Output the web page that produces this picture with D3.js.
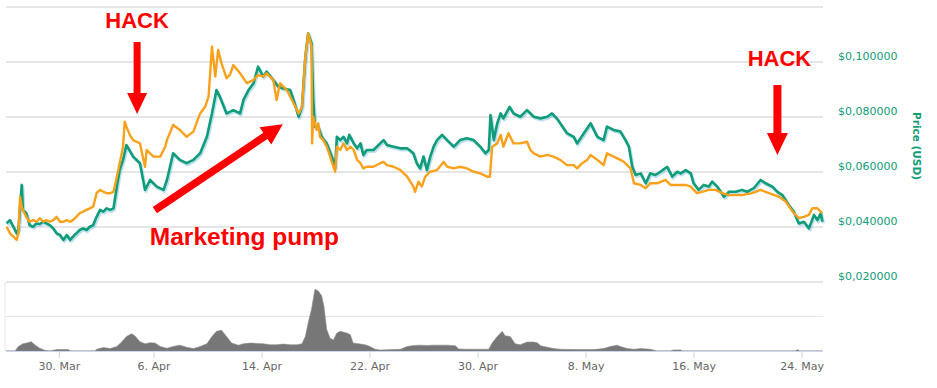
<!DOCTYPE html>
<html><head><meta charset="utf-8">
<script src="https://cdn.jsdelivr.net/npm/d3@7/dist/d3.min.js"></script>
<style>body{margin:0;background:#fff}svg{display:block}</style>
</head><body>
<svg id="chart" width="937" height="388"></svg>
<script>
// ---- DATA (2018) ----
const priceUSD = [
["03-26 03",0.0413],["03-26 09",0.0425],["03-26 15",0.0401],["03-26 21",0.0377],["03-27 00",0.0389],["03-27 03",0.0474],["03-27 06",0.0553],["03-27 08",0.0462],["03-27 14",0.0450],["03-27 20",0.0407],
["03-28 02",0.0401],["03-28 08",0.0413],["03-28 14",0.0411],["03-28 20",0.0419],["03-29 02",0.0413],["03-29 08",0.0407],["03-29 14",0.0395],["03-29 20",0.0377],["03-30 02",0.0371],["03-30 08",0.0353],
["03-30 14",0.0371],["03-30 20",0.0353],["03-31 01",0.0365],["03-31 07",0.0377],["03-31 13",0.0389],["03-31 19",0.0395],["04-01 01",0.0389],["04-01 07",0.0401],["04-01 13",0.0407],["04-01 19",0.0437],
["04-02 01",0.0462],["04-02 07",0.0456],["04-02 13",0.0468],["04-02 19",0.0462],["04-03 01",0.0468],["04-03 07",0.0547],["04-03 12",0.0607],["04-03 18",0.0644],["04-04 00",0.0698],["04-04 12",0.0656],
["04-05 00",0.0632],["04-05 09",0.0535],["04-05 18",0.0571],["04-06 06",0.0547],["04-06 18",0.0535],["04-07 00",0.0571],["04-07 11",0.0668],["04-07 23",0.0644],["04-08 11",0.0632],["04-08 23",0.0644],
["04-09 11",0.0668],["04-09 23",0.0728],["04-10 08",0.0813],["04-10 16",0.0898],["04-10 22",0.0874],["04-11 10",0.0813],["04-11 22",0.0825],["04-12 10",0.0813],["04-12 16",0.0862],["04-13 01",0.0898],
["04-13 10",0.0923],["04-13 18",0.0983],["04-14 03",0.0947],["04-14 09",0.0965],["04-14 21",0.0935],["04-15 06",0.0910],["04-15 15",0.0904],["04-16 03",0.0898],["04-16 09",0.0862],["04-16 18",0.0801],
["04-17 00",0.0837],["04-17 06",0.1019],["04-17 11",0.1104],["04-17 17",0.1068],["04-17 20",0.0862],["04-17 23",0.0765],["04-18 05",0.0765],["04-18 11",0.0728],["04-18 20",0.0704],["04-19 05",0.0656],
["04-19 11",0.0619],["04-19 14",0.0728],["04-19 20",0.0716],["04-20 02",0.0728],["04-20 08",0.0704],["04-20 12",0.0735],["04-20 20",0.0704],["04-21 02",0.0686],["04-21 08",0.0704],["04-21 13",0.0662],
["04-21 19",0.0680],["04-22 07",0.0680],["04-22 19",0.0704],["04-23 01",0.0716],["04-23 07",0.0698],["04-23 19",0.0692],["04-24 07",0.0686],["04-24 19",0.0686],["04-25 06",0.0668],["04-25 12",0.0632],
["04-25 18",0.0613],["04-26 00",0.0656],["04-26 06",0.0607],["04-26 12",0.0656],["04-26 18",0.0692],["04-27 00",0.0716],["04-27 09",0.0735],["04-27 18",0.0716],["04-28 06",0.0692],["04-28 17",0.0716],
["04-29 05",0.0723],["04-29 17",0.0716],["04-30 05",0.0692],["04-30 14",0.0668],["04-30 20",0.0680],["04-30 23",0.0807],["05-01 05",0.0716],["05-01 11",0.0777],["05-01 17",0.0813],["05-01 22",0.0795],
["05-02 09",0.0837],["05-02 16",0.0813],["05-03 04",0.0801],["05-03 16",0.0825],["05-04 04",0.0801],["05-04 16",0.0795],["05-05 04",0.0801],["05-05 12",0.0813],["05-05 21",0.0795],["05-06 09",0.0759],
["05-06 15",0.0741],["05-07 03",0.0728],["05-07 09",0.0704],["05-07 21",0.0741],["05-08 09",0.0777],["05-08 21",0.0728],["05-09 08",0.0716],["05-09 14",0.0765],["05-10 02",0.0753],["05-10 14",0.0747],
["05-10 23",0.0716],["05-11 05",0.0692],["05-11 11",0.0619],["05-11 17",0.0589],["05-12 02",0.0595],["05-12 11",0.0559],["05-12 19",0.0595],["05-13 04",0.0589],["05-13 13",0.0601],["05-14 01",0.0619],
["05-14 10",0.0583],["05-14 19",0.0601],["05-15 01",0.0595],["05-15 10",0.0607],["05-15 19",0.0595],["05-16 00",0.0559],["05-16 09",0.0535],["05-16 18",0.0553],["05-17 03",0.0547],["05-17 09",0.0565],
["05-17 18",0.0547],["05-18 06",0.0510],["05-18 15",0.0528],["05-19 03",0.0528],["05-19 14",0.0535],["05-19 23",0.0528],["05-20 11",0.0541],["05-20 23",0.0571],["05-21 08",0.0559],["05-21 20",0.0547],
["05-22 05",0.0528],["05-22 14",0.0516],["05-23 01",0.0480],["05-23 10",0.0456],["05-23 19",0.0413],["05-24 04",0.0419],["05-24 13",0.0395],["05-24 22",0.0444],["05-25 04",0.0425],["05-25 10",0.0450],["05-25 13",0.0419]
];
// second series (price in BTC), expressed on the USD axis position
const priceBTC = [
["03-26 03",0.0401],["03-26 09",0.0377],["03-26 15",0.0365],["03-26 21",0.0353],["03-27 00",0.0377],["03-27 03",0.0510],["03-27 06",0.0474],["03-27 08",0.0462],["03-27 14",0.0437],["03-27 20",0.0419],
["03-28 02",0.0425],["03-28 08",0.0419],["03-28 14",0.0432],["03-28 20",0.0419],["03-29 02",0.0425],["03-29 08",0.0419],["03-29 14",0.0425],["03-29 20",0.0437],["03-30 02",0.0419],["03-30 08",0.0419],
["03-30 14",0.0425],["03-30 20",0.0419],["03-31 01",0.0425],["03-31 07",0.0437],["03-31 13",0.0450],["03-31 19",0.0456],["04-01 01",0.0462],["04-01 07",0.0468],["04-01 13",0.0474],["04-01 19",0.0523],
["04-02 01",0.0535],["04-02 07",0.0528],["04-02 13",0.0523],["04-02 19",0.0523],["04-03 01",0.0528],["04-03 07",0.0583],["04-03 12",0.0632],["04-03 18",0.0692],["04-03 21",0.0783],["04-04 00",0.0765],
["04-04 06",0.0735],["04-04 12",0.0716],["04-04 18",0.0710],["04-05 00",0.0704],["04-05 09",0.0619],["04-05 12",0.0680],["04-06 00",0.0656],["04-06 12",0.0656],["04-06 21",0.0692],["04-07 00",0.0716],
["04-07 11",0.0771],["04-07 23",0.0753],["04-08 11",0.0728],["04-08 23",0.0747],["04-09 11",0.0813],["04-09 20",0.0837],["04-10 02",0.0874],["04-10 08",0.1056],["04-10 14",0.0947],["04-10 19",0.1044],
["04-11 01",0.0995],["04-11 10",0.0941],["04-11 16",0.0953],["04-11 22",0.0989],["04-12 10",0.0959],["04-12 22",0.0923],["04-13 10",0.0935],["04-13 18",0.0953],["04-14 03",0.0947],["04-14 09",0.0959],
["04-14 21",0.0935],["04-15 03",0.0862],["04-15 09",0.0923],["04-15 21",0.0898],["04-16 09",0.0850],["04-16 18",0.0813],["04-17 00",0.0837],["04-17 06",0.1019],["04-17 11",0.1104],["04-17 17",0.1056],
["04-17 18",0.0704],["04-17 20",0.0801],["04-18 02",0.0753],["04-18 05",0.0777],["04-18 08",0.0728],["04-18 14",0.0716],["04-18 20",0.0692],["04-19 02",0.0656],["04-19 08",0.0619],["04-19 11",0.0601],
["04-19 14",0.0692],["04-19 20",0.0680],["04-20 02",0.0704],["04-20 08",0.0680],["04-20 14",0.0692],["04-20 20",0.0680],["04-21 02",0.0644],["04-21 08",0.0632],["04-21 13",0.0613],["04-21 19",0.0619],
["04-22 07",0.0619],["04-22 19",0.0632],["04-23 01",0.0637],["04-23 07",0.0625],["04-23 19",0.0619],["04-24 07",0.0607],["04-24 19",0.0583],["04-25 06",0.0547],["04-25 09",0.0528],["04-25 15",0.0565],
["04-25 21",0.0547],["04-26 03",0.0583],["04-26 12",0.0601],["04-27 00",0.0607],["04-27 12",0.0637],["04-27 18",0.0619],["04-28 06",0.0613],["04-28 17",0.0619],["04-29 05",0.0613],["04-29 17",0.0601],
["04-30 05",0.0595],["04-30 17",0.0583],["04-30 22",0.0583],["05-01 02",0.0692],["05-01 11",0.0704],["05-01 17",0.0735],["05-01 22",0.0692],["05-02 07",0.0741],["05-02 16",0.0704],["05-03 04",0.0704],
["05-03 16",0.0710],["05-03 22",0.0680],["05-04 04",0.0668],["05-04 16",0.0656],["05-05 04",0.0662],["05-05 15",0.0656],["05-06 03",0.0644],["05-06 15",0.0625],["05-07 03",0.0625],["05-07 09",0.0613],
["05-07 18",0.0632],["05-08 03",0.0644],["05-08 09",0.0662],["05-08 21",0.0644],["05-09 08",0.0625],["05-09 14",0.0668],["05-10 02",0.0656],["05-10 14",0.0644],["05-10 20",0.0637],["05-11 08",0.0613],
["05-11 14",0.0559],["05-12 02",0.0553],["05-12 11",0.0541],["05-12 19",0.0559],["05-13 07",0.0559],["05-13 22",0.0571],["05-14 07",0.0553],["05-15 01",0.0553],["05-15 10",0.0553],["05-15 19",0.0547],
["05-16 06",0.0523],["05-16 15",0.0528],["05-17 03",0.0535],["05-17 15",0.0535],["05-18 03",0.0523],["05-18 15",0.0516],["05-19 14",0.0516],["05-20 08",0.0523],["05-20 23",0.0535],["05-21 14",0.0523],
["05-22 08",0.0510],["05-22 20",0.0492],["05-23 08",0.0456],["05-23 19",0.0432],["05-24 04",0.0437],["05-24 13",0.0444],["05-24 19",0.0468],["05-25 04",0.0468],["05-25 13",0.0450]
];
// 24h volume (relative units; the panel's middle gridline = 1)
const volume = [
["03-26 02",0],["03-26 18",0],["03-27 00",0.13],["03-27 08",0.21],["03-27 17",0.24],["03-27 23",0.27],["03-28 05",0.18],["03-28 14",0.08],["03-28 23",0.02],["03-29 08",0],
["03-29 20",0.04],["03-30 17",0.04],["03-30 20",0],["04-01 16",0],["04-01 19",0.05],["04-02 07",0.10],["04-02 19",0.07],["04-03 07",0.13],["04-03 16",0.27],["04-04 00",0.42],
["04-04 09",0.50],["04-04 15",0.44],["04-05 00",0.27],["04-05 09",0.21],["04-05 18",0.24],["04-06 03",0.23],["04-06 12",0.13],["04-07 00",0.08],["04-07 11",0.13],["04-07 23",0.17],
["04-08 11",0.11],["04-08 23",0.07],["04-09 11",0.13],["04-09 23",0.21],["04-10 08",0.42],["04-10 16",0.57],["04-11 01",0.60],["04-11 10",0.42],["04-11 19",0.23],["04-12 07",0.17],
["04-12 16",0.21],["04-13 04",0.23],["04-13 16",0.22],["04-14 03",0.21],["04-14 15",0.18],["04-15 03",0.18],["04-15 15",0.20],["04-16 03",0.18],["04-16 15",0.18],["04-17 00",0.21],
["04-17 06",0.42],["04-17 11",0.81],["04-17 17",1.21],["04-17 23",1.79],["04-18 05",1.74],["04-18 11",1.60],["04-18 15",1.30],["04-18 20",0.62],["04-19 02",0.37],["04-19 08",0.32],
["04-19 14",0.52],["04-19 20",0.57],["04-20 08",0.52],["04-20 14",0.47],["04-20 19",0.23],["04-21 05",0.21],["04-21 16",0.18],["04-22 01",0.13],["04-22 10",0.05],["04-22 19",0.03],
["04-23 19",0.04],["04-24 07",0.05],["04-24 19",0.13],["04-25 06",0.16],["04-25 18",0.17],["04-26 06",0.16],["04-26 18",0.17],["04-27 18",0.17],["04-28 09",0.15],["04-28 14",0.06],
["04-29 05",0.05],["04-30 05",0.05],["04-30 20",0.05],["05-01 02",0.23],["05-01 11",0.42],["05-01 20",0.57],["05-02 01",0.44],["05-02 10",0.42],["05-02 19",0.21],["05-03 04",0.18],
["05-03 16",0.26],["05-04 04",0.26],["05-04 11",0.23],["05-04 16",0.15],["05-05 04",0.11],["05-05 15",0.07],["05-06 03",0.05],["05-07 15",0.04],["05-08 14",0.04],["05-09 08",0.07],
["05-09 20",0.13],["05-10 08",0.17],["05-10 14",0.13],["05-11 02",0.07],["05-11 14",0.05],["05-12 02",0.07],["05-12 19",0.05],["05-13 07",0],["05-14 07",0],["05-14 12",0.03],
["05-15 01",0.03],["05-15 04",0],["05-23 13",0],["05-23 17",0.04],["05-23 20",0],["05-25 13",0]
];
const timeDomain = ["03-26 02","05-25 14"];
const gridValues = [0.02,0.04,0.06,0.08,0.10,0.12];
const priceTickValues = [0.02,0.04,0.06,0.08,0.10];
const volumeGrid = [0,1,2];
const dateTicks = ["03-30 00","04-06 00","04-14 00","04-22 00","04-30 00","05-08 00","05-16 00","05-24 00"];
const dateTickLabels = ["30. Mar","6. Apr","14. Apr","22. Apr","30. Apr","8. May","16. May","24. May"];
const axisTitle = "Price (USD)";
const annotations = [
  {text:"HACK", time:"04-04 19", value:0.0811},
  {text:"HACK", time:"05-22 05", value:0.0662},
  {text:"Marketing pump", time:"04-15 14", value:0.0774}
];

// ---- DRAW ----
const parse = s => d3.timeParse("%Y-%m-%d %H")("2018-" + s);
const svg = d3.select("#chart");
const left = 6, right = 823;
const x = d3.scaleTime().domain(timeDomain.map(parse)).range([left, right]);
const y = d3.scaleLinear().domain([0.02, 0.12]).range([282, 7]);
const yv = d3.scaleLinear().domain([0, 2]).range([351, 282]);

const GREEN = "#0f9c78", ORANGE = "#f9a11b";

// gridlines price
svg.append("g").selectAll("line").data(gridValues).join("line")
  .attr("x1", left).attr("x2", right)
  .attr("y1", d => y(d)).attr("y2", d => y(d))
  .attr("stroke", "#e6e6e6").attr("stroke-width", 2);

// volume gridline (middle)
svg.append("g").selectAll("line").data(volumeGrid.slice(1,2)).join("line")
  .attr("x1", left).attr("x2", right)
  .attr("y1", d => yv(d)).attr("y2", d => yv(d))
  .attr("stroke", "#e6e6e6").attr("stroke-width", 1);
// volume left border
svg.append("line").attr("x1", left - 1).attr("x2", left - 1)
  .attr("y1", yv(2)).attr("y2", yv(0)).attr("stroke", "#e3e6ee").attr("stroke-width", 1);

// volume area
const va = d3.area().x(d => x(parse(d[0]))).y0(yv(0)).y1(d => yv(d[1]));
svg.append("path").datum(volume).attr("d", va)
  .attr("fill", "#777").attr("stroke", "#8c8c8c").attr("stroke-width", 0.6);

// x axis
const xAxis = d3.axisBottom(x).tickValues(dateTicks.map(parse))
  .tickFormat((d, i) => dateTickLabels[i]).tickSize(7).tickSizeOuter(0).tickPadding(4);
const gx = svg.append("g").attr("transform", `translate(0,${yv(0)})`).call(xAxis);
gx.select(".domain").attr("stroke", "#ccd6eb").attr("d", `M${left},0.5H${right}`);
gx.selectAll(".tick line").attr("stroke", "#ccd6eb");
gx.selectAll(".tick text").attr("fill", "#666").attr("font-family", "DejaVu Sans, Verdana, sans-serif").attr("font-size", 11);

// y axis (right) labels
const fmt = v => "$" + d3.format(".6f")(v).replace(".", ",");
const yAxis = d3.axisRight(y).tickValues(priceTickValues).tickFormat(fmt).tickSize(0).tickPadding(0);
const gy = svg.append("g").attr("transform", `translate(838,-6)`).call(yAxis);
gy.select(".domain").remove();
gy.selectAll(".tick text").attr("fill", GREEN).attr("font-family", "DejaVu Sans, Verdana, sans-serif").attr("font-size", 11);

svg.append("text").attr("transform", `translate(913,146) rotate(90)`)
  .attr("text-anchor", "middle").attr("fill", GREEN)
  .attr("font-family", "DejaVu Sans, Verdana, sans-serif").attr("font-weight", "bold").attr("font-size", 10.5)
  .text(axisTitle);

// lines
const line = d3.line().x(d => x(parse(d[0]))).y(d => y(d[1]));
svg.append("path").datum(priceUSD).attr("d", line).attr("fill", "none")
  .attr("stroke", "#6fb7dd").attr("stroke-opacity", 0.45).attr("stroke-width", 3.2)
  .attr("transform", "translate(1,1.5)").attr("stroke-linejoin", "round");
svg.append("path").datum(priceUSD).attr("d", line).attr("fill", "none")
  .attr("stroke", GREEN).attr("stroke-width", 2.6).attr("stroke-linejoin", "round");
svg.append("path").datum(priceBTC).attr("d", line).attr("fill", "none")
  .attr("stroke", ORANGE).attr("stroke-width", 2.4).attr("stroke-linejoin", "round");

// annotations
function arrowPath(x1, y1, x2, y2, sw, hl, hw) {
  const dx = x2 - x1, dy = y2 - y1, L = Math.hypot(dx, dy);
  const ux = dx / L, uy = dy / L, px = -uy, py = ux;
  const bx = x2 - ux * hl, by = y2 - uy * hl;
  const pts = [
    [x1 + px * sw / 2, y1 + py * sw / 2], [bx + px * sw / 2, by + py * sw / 2],
    [bx + px * hw / 2, by + py * hw / 2], [x2, y2],
    [bx - px * hw / 2, by - py * hw / 2], [bx - px * sw / 2, by - py * sw / 2],
    [x1 - px * sw / 2, y1 - py * sw / 2]
  ];
  return "M" + pts.map(p => p.join(",")).join("L") + "Z";
}
const RED = "#ff0000";
const ann = svg.append("g");
const fontAnn = "Liberation Sans, Arial, sans-serif";
// HACK 1
{
  const a = annotations[0], tx = x(parse(a.time)), ty = y(a.value);
  ann.append("path").attr("d", arrowPath(tx, ty - 72, tx, ty, 7, 21, 20)).attr("fill", RED);
  ann.append("text").attr("x", tx).attr("y", ty - 86).attr("text-anchor", "middle")
    .attr("font-family", fontAnn).attr("font-weight", "bold").attr("font-size", 22).attr("fill", RED).text(a.text);
}
// HACK 2
{
  const a = annotations[1], tx = x(parse(a.time)), ty = y(a.value);
  ann.append("path").attr("d", arrowPath(tx, ty - 70, tx, ty, 8, 22, 21)).attr("fill", RED);
  ann.append("text").attr("x", tx + 2).attr("y", ty - 89).attr("text-anchor", "middle")
    .attr("font-family", fontAnn).attr("font-weight", "bold").attr("font-size", 22).attr("fill", RED).text(a.text);
}
// Marketing pump
{
  const a = annotations[2], tx = x(parse(a.time)), ty = y(a.value);
  ann.append("path").attr("d", arrowPath(tx - 128, ty + 86, tx, ty, 7.5, 21, 21)).attr("fill", RED);
  ann.append("text").attr("x", tx - 133).attr("y", ty + 121)
    .attr("font-family", fontAnn).attr("font-weight", "bold").attr("font-size", 24.5).attr("fill", RED).text(a.text);
}
</script>
</body></html>
